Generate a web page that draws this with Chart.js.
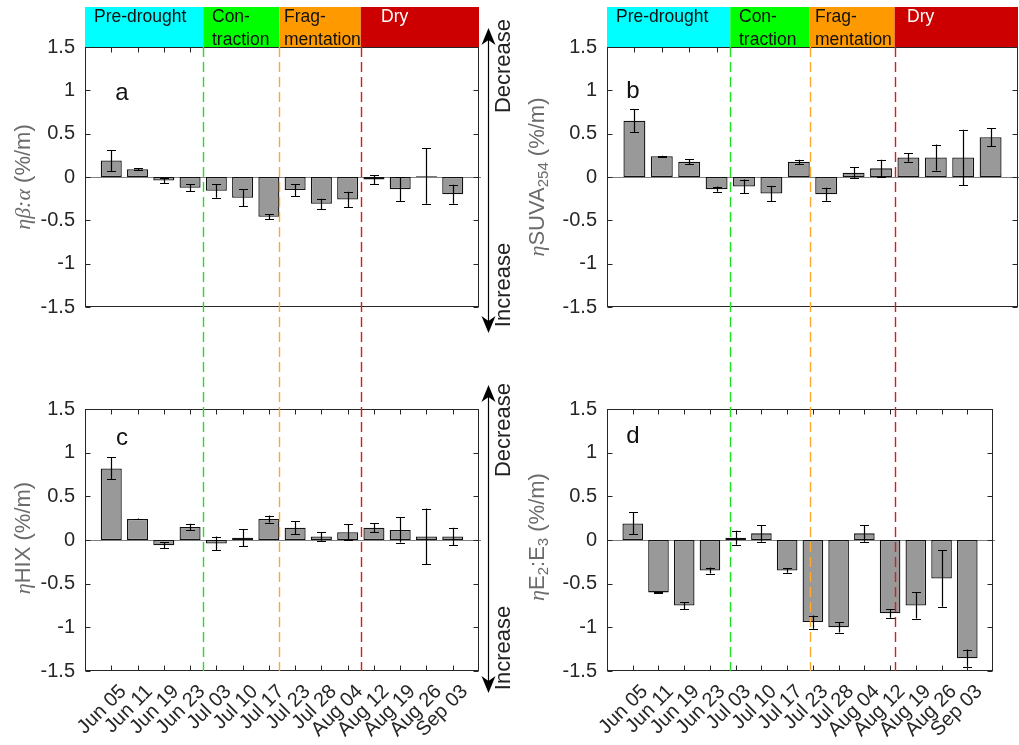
<!DOCTYPE html>
<html>
<head>
<meta charset="utf-8">
<script src="https://cdn.jsdelivr.net/npm/chart.js@4.4.0/dist/chart.umd.min.js"></script>
<style>
  body { margin: 0; background: #fff; }
  #wrap { position: relative; width: 1019px; height: 745px; overflow: hidden;
          font-family: "Liberation Sans", Arial, sans-serif; }
  #wrap canvas { position: absolute; left: 0; top: 0; }
  .t { position: absolute; white-space: nowrap; line-height: 1; }
  .band { font-size: 17.5px; line-height: 23px; color: #111; }
  .rot { transform: translate(-50%, -50%) rotate(-90deg); }
  .ytitle { font-size: 22px; color: #6b6b6b; }
  .m { font-family: "Liberation Serif", "DejaVu Serif", serif; font-style: italic; }
  .ytitle sub { font-size: 15px; vertical-align: -4px; }
  .letter { font-size: 24px; color: #111; transform: translate(-50%, -50%); }
  .dir { font-size: 22px; color: #222; }
</style>
</head>
<body>
<div id="wrap">
  <canvas id="chartC"></canvas>
  <canvas id="chartD"></canvas>
  <canvas id="chartA"></canvas>
  <canvas id="chartB"></canvas>

  <!-- phase band labels -->
  <div class="t band" style="left:94px;top:5px">Pre-drought</div>
  <div class="t band" style="left:212px;top:5px">Con-<br>traction</div>
  <div class="t band" style="left:284px;top:5px">Frag-<br>mentation</div>
  <div class="t band" style="left:381px;top:5px;color:#fff">Dry</div>
  <div class="t band" style="left:616px;top:5px">Pre-drought</div>
  <div class="t band" style="left:739px;top:5px">Con-<br>traction</div>
  <div class="t band" style="left:815px;top:5px">Frag-<br>mentation</div>
  <div class="t band" style="left:907px;top:5px;color:#fff">Dry</div>

  <!-- panel letters -->
  <div class="t letter" style="left:122px;top:92px">a</div>
  <div class="t letter" style="left:633px;top:90px">b</div>
  <div class="t letter" style="left:122px;top:437px">c</div>
  <div class="t letter" style="left:633px;top:435px">d</div>

  <!-- y axis titles -->
  <div class="t rot ytitle" style="left:23px;top:177px"><span class="m">ηβ:α</span> (%/m)</div>
  <div class="t rot ytitle" style="left:538px;top:177px"><span class="m">η</span>SUVA<sub>254</sub> (%/m)</div>
  <div class="t rot ytitle" style="left:23px;top:538px"><span class="m">η</span>HIX (%/m)</div>
  <div class="t rot ytitle" style="left:538px;top:537px"><span class="m">η</span>E<sub>2</sub>:E<sub>3</sub> (%/m)</div>

  <!-- direction labels -->
  <div class="t rot dir" style="left:503px;top:66px">Decrease</div>
  <div class="t rot dir" style="left:503px;top:285px">Increase</div>
  <div class="t rot dir" style="left:503px;top:430px">Decrease</div>
  <div class="t rot dir" style="left:503px;top:648px">Increase</div>
</div>

<script>
// sampling dates
var dates = ['Jun 05', 'Jun 11', 'Jun 19', 'Jun 23', 'Jul 03', 'Jul 10', 'Jul 17',
             'Jul 23', 'Jul 28', 'Aug 04', 'Aug 12', 'Aug 19', 'Aug 26', 'Sep 03'];

// a: eta beta:alpha
var betaAlpha    = [0.19, 0.09, -0.04, -0.125, -0.16, -0.24, -0.46, -0.15, -0.31, -0.26, -0.03, -0.14, 0.01, -0.2];
var betaAlphaErr = [0.12, 0.01, 0.03, 0.04, 0.08, 0.1, 0.03, 0.07, 0.06, 0.09, 0.05, 0.14, 0.32, 0.11];
// b: eta SUVA254
var suva    = [0.65, 0.24, 0.175, -0.14, -0.11, -0.19, 0.175, -0.2, 0.05, 0.1, 0.225, 0.225, 0.225, 0.46];
var suvaErr = [0.13, 0.005, 0.03, 0.03, 0.08, 0.09, 0.025, 0.075, 0.06, 0.1, 0.05, 0.15, 0.32, 0.105];
// c: eta HIX
var hix    = [0.82, 0.24, -0.06, 0.15, -0.04, 0.027, 0.24, 0.14, 0.04, 0.09, 0.14, 0.115, 0.04, 0.04];
var hixErr = [0.125, 0.005, 0.035, 0.035, 0.08, 0.1, 0.04, 0.075, 0.05, 0.09, 0.05, 0.145, 0.32, 0.1];
// d: eta E2:E3
var e2e3    = [0.19, -0.6, -0.75, -0.35, 0.027, 0.076, -0.35, -0.94, -1.0, 0.076, -0.84, -0.75, -0.44, -1.355];
var e2e3Err = [0.125, 0.005, 0.04, 0.035, 0.08, 0.095, 0.025, 0.075, 0.06, 0.095, 0.05, 0.15, 0.325, 0.1];

var yTicks = [-1.5, -1, -0.5, 0, 0.5, 1, 1.5];

// drought phases (edges in category units, 0..15)
var phaseEdges  = [0, 4.5, 7.4, 10.5, 15];
var phaseColors = ['#00ffff', '#00ff00', '#ff9900', '#cc0000'];
var lineColors  = ['', '#22e022', '#ffa830', '#e01818'];

var W = 1019, H = 745;
var FONT = '"Liberation Sans", Arial, sans-serif';
var AXIS = '#262626';

var decor = {
  id: 'decor',
  beforeDatasetsDraw: function(chart) {
    var ctx = chart.ctx, a = chart.chartArea;
    var y0 = Math.round(chart.scales.y.getPixelForValue(0)) + 0.5;
    ctx.save();
    ctx.strokeStyle = '#808080';
    ctx.lineWidth = 1;
    ctx.beginPath();
    ctx.moveTo(a.left, y0);
    ctx.lineTo(a.right + 2, y0);
    ctx.stroke();
    ctx.restore();
  },
  afterDatasetsDraw: function(chart, args, o) {
    var ctx = chart.ctx, a = chart.chartArea;
    var xs = chart.scales.x, ys = chart.scales.y;
    var vals = chart.data.datasets[0].data;
    ctx.save();

    // error bars
    ctx.strokeStyle = '#000';
    ctx.lineWidth = 1.2;
    o.errs.forEach(function(e, i) {
      var v = vals[i + 1];
      var px = Math.round(xs.getPixelForValue(i + 1)) + 0.5;
      var yt = ys.getPixelForValue(v + e), yb = ys.getPixelForValue(v - e);
      ctx.beginPath();
      ctx.moveTo(px, yt); ctx.lineTo(px, yb);
      ctx.moveTo(px - 4.5, Math.round(yt) + 0.5); ctx.lineTo(px + 4.5, Math.round(yt) + 0.5);
      ctx.moveTo(px - 4.5, Math.round(yb) + 0.5); ctx.lineTo(px + 4.5, Math.round(yb) + 0.5);
      ctx.stroke();
    });

    // box
    ctx.lineWidth = 1;
    var L = Math.round(a.left) + 0.5, R = Math.round(a.right) - 0.5;
    var T = Math.round(a.top) + 0.5, B = Math.round(a.bottom) - 0.5;
    ctx.strokeStyle = AXIS;
    ctx.strokeRect(L, T, R - L, B - T);

    // inward ticks
    ctx.beginPath();
    yTicks.forEach(function(t) {
      var py = Math.round(ys.getPixelForValue(t)) + 0.5;
      ctx.moveTo(L, py); ctx.lineTo(L + 5, py);
      ctx.moveTo(R, py); ctx.lineTo(R - 5, py);
    });
    for (var i = 1; i <= dates.length; i++) {
      var px = Math.round(xs.getPixelForValue(i)) + 0.5;
      if (i <= o.topTicks) { ctx.moveTo(px, T); ctx.lineTo(px, T + 5); }
      if (o.bottomTicks) { ctx.moveTo(px, B); ctx.lineTo(px, B - 5); }
    }
    ctx.stroke();

    // phase band and phase boundaries
    if (o.band) {
      for (var k = 0; k < phaseColors.length; k++) {
        var x0 = xs.getPixelForValue(phaseEdges[k]), x1 = xs.getPixelForValue(phaseEdges[k + 1]);
        ctx.fillStyle = phaseColors[k];
        ctx.fillRect(x0, a.top - 40, x1 - x0, 40);
      }
      ctx.setLineDash([10, 5]);
      ctx.lineWidth = 1.4;
      for (k = 1; k < phaseColors.length; k++) {
        var xd = Math.round(xs.getPixelForValue(phaseEdges[k])) + 0.5;
        ctx.strokeStyle = lineColors[k];
        ctx.beginPath();
        ctx.moveTo(xd, a.top);
        ctx.lineTo(xd, o.dashTo);
        ctx.stroke();
      }
      ctx.setLineDash([]);
    }

    // decrease / increase arrow
    if (o.arrow) {
      var xa = Math.round(a.right) + 9.5;
      var ya = a.top - o.arrow[0], yb2 = a.bottom + o.arrow[1];
      ctx.strokeStyle = '#000';
      ctx.fillStyle = '#000';
      ctx.lineWidth = 1.2;
      ctx.beginPath();
      ctx.moveTo(xa, ya + 8); ctx.lineTo(xa, yb2 - 8);
      ctx.stroke();
      ctx.beginPath();
      ctx.moveTo(xa, ya); ctx.lineTo(xa - 7, ya + 17); ctx.lineTo(xa, ya + 12); ctx.lineTo(xa + 7, ya + 17);
      ctx.closePath(); ctx.fill();
      ctx.beginPath();
      ctx.moveTo(xa, yb2); ctx.lineTo(xa - 7, yb2 - 17); ctx.lineTo(xa, yb2 - 12); ctx.lineTo(xa + 7, yb2 - 17);
      ctx.closePath(); ctx.fill();
    }
    ctx.restore();
  }
};

function panel(id, values, errs, box, o) {
  var canvas = document.getElementById(id);
  canvas.width = W;
  canvas.height = H;
  var xh = o.xLabels ? 72 : 0;
  return new Chart(canvas, {
    type: 'bar',
    data: {
      labels: [''].concat(dates, ['']),
      datasets: [{
        data: [null].concat(values, [null]),
        backgroundColor: '#999999',
        borderColor: '#111111',
        borderWidth: 1.3,
        borderSkipped: false,
        barPercentage: 0.8,
        categoryPercentage: 1
      }]
    },
    options: {
      responsive: false,
      animation: false,
      layout: { autoPadding: false,
                padding: { left: box.left - 62, top: box.top, right: W - box.right, bottom: H - box.bottom - xh } },
      plugins: {
        legend: { display: false },
        tooltip: { enabled: false },
        decor: { errs: errs, topTicks: o.topTicks, bottomTicks: o.bottomTicks, band: o.band,
                 dashTo: 671, arrow: o.arrow }
      },
      scales: {
        x: {
          offset: false,
          grid: { display: false, drawTicks: false },
          border: { display: false },
          ticks: { display: o.xLabels, autoSkip: false, minRotation: 45, maxRotation: 45,
                   color: AXIS, font: { family: FONT, size: 20 }, padding: 9, labelOffset: 12 },
          afterFit: function(s) { s.height = xh; }
        },
        y: {
          min: -1.5, max: 1.5,
          grid: { display: false, drawTicks: false },
          border: { display: false },
          ticks: { stepSize: 0.5, color: AXIS, font: { family: FONT, size: 20 }, padding: 10,
                   callback: function(v) { return String(v); } },
          afterFit: function(s) { s.width = 62; }
        }
      }
    },
    plugins: [decor]
  });
}

var topRow = { top: 47, bottom: 307 }, botRow = { top: 409, bottom: 671 };
var leftCol = { left: 85, right: 479 }, rightCol = { left: 607, right: 1018 };

panel('chartC', hix, hixErr, { left: leftCol.left, right: leftCol.right, top: botRow.top, bottom: botRow.bottom },
      { xLabels: true, topTicks: 14, bottomTicks: true, band: false, arrow: [24, 22] });
panel('chartD', e2e3, e2e3Err, { left: rightCol.left, right: rightCol.right, top: botRow.top, bottom: botRow.bottom },
      { xLabels: true, topTicks: 14, bottomTicks: true, band: false, arrow: null });
panel('chartA', betaAlpha, betaAlphaErr, { left: leftCol.left, right: leftCol.right, top: topRow.top, bottom: topRow.bottom },
      { xLabels: false, topTicks: 4, bottomTicks: false, band: true, arrow: [19, 26] });
panel('chartB', suva, suvaErr, { left: rightCol.left, right: rightCol.right, top: topRow.top, bottom: topRow.bottom },
      { xLabels: false, topTicks: 4, bottomTicks: false, band: true, arrow: null });
</script>
</body>
</html>
